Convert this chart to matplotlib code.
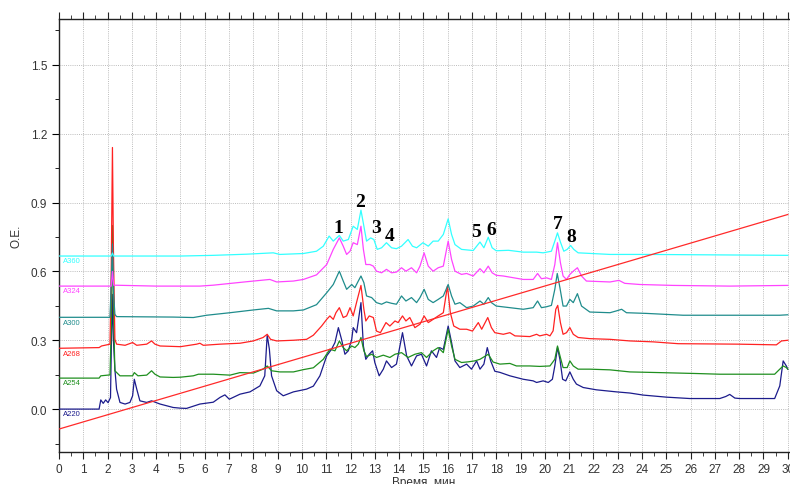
import matplotlib
matplotlib.use("Agg")
import matplotlib.pyplot as plt
from matplotlib.ticker import MultipleLocator

# chromatogram traces, (time min, absorbance)
a220 = [(0, 0.0), (1.65, 0.0), (1.72, 0.04), (1.82, 0.025), (1.92, 0.04), (2.02, 0.028), (2.12, 0.05),
        (2.19, 0.50), (2.24, 0.30), (2.30, 0.174), (2.37, 0.087), (2.51, 0.029), (2.72, 0.022),
        (2.92, 0.029), (3.03, 0.058), (3.10, 0.13), (3.20, 0.087), (3.33, 0.036), (3.61, 0.029),
        (3.81, 0.036), (4.16, 0.022), (4.70, 0.007), (5.0, 0.004), (5.25, 0.003), (5.80, 0.022),
        (6.35, 0.03), (6.63, 0.051), (6.83, 0.062), (7.01, 0.043), (7.45, 0.065), (7.86, 0.075),
        (8.27, 0.101), (8.47, 0.145), (8.57, 0.322), (8.66, 0.261), (8.75, 0.145), (8.96, 0.08),
        (9.23, 0.058), (9.65, 0.075), (10.19, 0.087), (10.47, 0.10), (10.74, 0.145), (11.02, 0.232),
        (11.22, 0.261), (11.36, 0.29), (11.50, 0.355), (11.63, 0.304), (11.77, 0.239), (11.91, 0.254),
        (12.05, 0.304), (12.11, 0.355), (12.25, 0.333), (12.43, 0.464), (12.53, 0.275), (12.63, 0.217),
        (12.77, 0.239), (12.91, 0.254), (13.00, 0.203), (13.18, 0.145), (13.35, 0.174), (13.48, 0.21),
        (13.69, 0.181), (13.89, 0.196), (14.14, 0.333), (14.31, 0.232), (14.51, 0.188), (14.72, 0.232),
        (14.92, 0.239), (15.13, 0.188), (15.33, 0.254), (15.54, 0.225), (15.67, 0.268), (15.82, 0.26),
        (16.02, 0.362), (16.16, 0.29), (16.30, 0.21), (16.50, 0.181), (16.78, 0.196), (16.98, 0.174),
        (17.19, 0.21), (17.33, 0.174), (17.49, 0.196), (17.63, 0.268), (17.77, 0.21), (17.94, 0.165),
        (18.15, 0.16), (18.56, 0.145), (19.11, 0.13), (19.52, 0.123), (19.66, 0.116), (19.93, 0.123),
        (20.14, 0.116), (20.31, 0.13), (20.41, 0.188), (20.52, 0.268), (20.62, 0.217), (20.73, 0.13),
        (20.86, 0.123), (21.03, 0.162), (21.17, 0.13), (21.30, 0.109), (21.58, 0.094), (22.12, 0.084),
        (22.95, 0.075), (23.50, 0.07), (24.05, 0.061), (25.01, 0.052), (25.97, 0.046), (27.20, 0.046),
        (27.45, 0.055), (27.61, 0.064), (27.82, 0.048), (28.02, 0.046), (29.46, 0.046), (29.67, 0.101),
        (29.81, 0.21), (29.94, 0.188), (30.0, 0.174)]

a254 = [(0, 0.135), (1.65, 0.135), (1.72, 0.145), (2.1, 0.149), (2.15, 0.35), (2.20, 0.80), (2.25, 0.40),
        (2.30, 0.167), (2.51, 0.145), (3.03, 0.145), (3.10, 0.159), (3.25, 0.145), (3.61, 0.148),
        (3.81, 0.167), (3.95, 0.152), (4.16, 0.14), (4.70, 0.138), (5.0, 0.139), (5.53, 0.145),
        (5.74, 0.152), (6.35, 0.152), (7.04, 0.148), (7.45, 0.159), (8.0, 0.157), (8.40, 0.174),
        (8.57, 0.188), (8.75, 0.167), (9.09, 0.162), (9.65, 0.162), (10.06, 0.172), (10.47, 0.18),
        (10.88, 0.217), (11.15, 0.261), (11.36, 0.254), (11.54, 0.297), (11.70, 0.268), (11.84, 0.254),
        (12.05, 0.275), (12.18, 0.268), (12.32, 0.283), (12.43, 0.312), (12.55, 0.254), (12.66, 0.229),
        (12.87, 0.239), (13.07, 0.225), (13.35, 0.235), (13.62, 0.225), (13.83, 0.239), (14.10, 0.246),
        (14.37, 0.225), (14.65, 0.239), (14.92, 0.246), (15.13, 0.225), (15.40, 0.254), (15.61, 0.268),
        (15.82, 0.246), (16.02, 0.348), (16.16, 0.275), (16.30, 0.217), (16.57, 0.203), (16.85, 0.206),
        (17.11, 0.21), (17.33, 0.217), (17.67, 0.239), (17.87, 0.205), (18.15, 0.196), (18.56, 0.199),
        (18.83, 0.188), (19.38, 0.188), (19.79, 0.186), (20.21, 0.188), (20.41, 0.217), (20.52, 0.275),
        (20.64, 0.225), (20.75, 0.181), (20.92, 0.181), (21.03, 0.21), (21.17, 0.188), (21.37, 0.174),
        (21.85, 0.174), (22.68, 0.171), (23.50, 0.162), (24.73, 0.159), (26.24, 0.155), (27.2, 0.152),
        (29.46, 0.152), (29.67, 0.174), (29.81, 0.188), (29.94, 0.181), (30.0, 0.174)]

a268 = [(0, 0.265), (1.65, 0.268), (1.75, 0.275), (2.1, 0.283), (2.15, 0.6), (2.20, 1.14), (2.24, 0.7),
        (2.30, 0.304), (2.37, 0.283), (2.72, 0.278), (3.03, 0.29), (3.2, 0.278), (3.61, 0.283),
        (3.81, 0.297), (3.95, 0.283), (4.16, 0.275), (5.0, 0.272), (5.67, 0.283), (5.80, 0.287),
        (5.94, 0.278), (6.63, 0.283), (7.45, 0.287), (8.0, 0.297), (8.40, 0.312), (8.57, 0.326),
        (8.71, 0.304), (8.96, 0.297), (9.65, 0.3), (10.19, 0.304), (10.47, 0.322), (10.81, 0.362),
        (11.02, 0.391), (11.15, 0.406), (11.29, 0.391), (11.40, 0.42), (11.54, 0.442), (11.70, 0.399),
        (11.84, 0.406), (11.98, 0.442), (12.11, 0.406), (12.28, 0.478), (12.43, 0.539), (12.55, 0.435),
        (12.63, 0.384), (12.77, 0.406), (12.94, 0.399), (13.07, 0.34), (13.23, 0.333), (13.46, 0.377),
        (13.62, 0.362), (13.83, 0.384), (13.96, 0.377), (14.14, 0.406), (14.28, 0.384), (14.44, 0.399),
        (14.65, 0.355), (14.86, 0.37), (15.03, 0.406), (15.20, 0.377), (15.40, 0.391), (15.61, 0.406),
        (15.82, 0.42), (15.99, 0.536), (16.11, 0.42), (16.25, 0.362), (16.50, 0.348), (16.78, 0.348),
        (17.02, 0.34), (17.26, 0.377), (17.40, 0.348), (17.65, 0.399), (17.80, 0.355), (17.94, 0.333),
        (18.29, 0.326), (18.56, 0.333), (18.77, 0.319), (19.38, 0.316), (19.66, 0.326), (19.79, 0.319),
        (20.07, 0.326), (20.21, 0.319), (20.34, 0.341), (20.45, 0.435), (20.53, 0.452), (20.64, 0.377),
        (20.75, 0.326), (20.89, 0.333), (21.03, 0.355), (21.17, 0.326), (21.37, 0.312), (21.85, 0.307),
        (22.68, 0.304), (23.50, 0.297), (24.46, 0.293), (25.49, 0.285), (27.95, 0.283), (29.53, 0.28),
        (29.74, 0.297), (30.0, 0.3)]

a300 = [(0, 0.40), (2.1, 0.40), (2.15, 0.55), (2.20, 0.72), (2.25, 0.5), (2.30, 0.413), (2.37, 0.403),
        (4.70, 0.401), (5.53, 0.399), (6.08, 0.409), (7.04, 0.42), (8.0, 0.432), (8.62, 0.439),
        (8.96, 0.428), (9.65, 0.428), (10.06, 0.432), (10.60, 0.455), (11.02, 0.507), (11.29, 0.543),
        (11.54, 0.601), (11.70, 0.558), (11.84, 0.522), (12.05, 0.543), (12.18, 0.529), (12.32, 0.558),
        (12.43, 0.58), (12.55, 0.551), (12.66, 0.493), (12.87, 0.486), (13.07, 0.464), (13.28, 0.457),
        (13.48, 0.467), (13.69, 0.461), (13.89, 0.457), (14.10, 0.493), (14.28, 0.471), (14.51, 0.486),
        (14.72, 0.464), (14.86, 0.486), (15.03, 0.522), (15.20, 0.478), (15.40, 0.464), (15.61, 0.478),
        (15.82, 0.493), (16.02, 0.543), (16.16, 0.493), (16.30, 0.457), (16.50, 0.464), (16.78, 0.442),
        (17.05, 0.449), (17.33, 0.471), (17.49, 0.457), (17.67, 0.486), (17.80, 0.464), (18.00, 0.449),
        (18.56, 0.442), (19.11, 0.435), (19.52, 0.442), (19.70, 0.471), (19.86, 0.442), (20.07, 0.446),
        (20.27, 0.452), (20.41, 0.522), (20.51, 0.591), (20.62, 0.529), (20.75, 0.449), (20.89, 0.449),
        (21.03, 0.478), (21.17, 0.464), (21.34, 0.503), (21.51, 0.449), (21.85, 0.423), (22.68, 0.42),
        (22.95, 0.428), (23.16, 0.435), (23.36, 0.42), (24.18, 0.417), (25.69, 0.409), (29.67, 0.409),
        (30.0, 0.411)]

a324 = [(0, 0.536), (2.15, 0.536), (2.2, 0.6), (2.25, 0.54), (4.0, 0.536), (5.8, 0.536), (6.35, 0.54),
        (7.72, 0.555), (8.68, 0.565), (8.96, 0.554), (9.65, 0.558), (10.06, 0.565), (10.60, 0.585),
        (11.02, 0.63), (11.29, 0.696), (11.54, 0.746), (11.70, 0.71), (11.84, 0.674), (11.98, 0.688),
        (12.11, 0.725), (12.28, 0.717), (12.43, 0.797), (12.53, 0.696), (12.63, 0.63), (12.80, 0.63),
        (12.94, 0.623), (13.07, 0.601), (13.28, 0.594), (13.48, 0.609), (13.69, 0.594), (13.89, 0.597),
        (14.10, 0.616), (14.28, 0.601), (14.51, 0.616), (14.72, 0.594), (14.86, 0.623), (15.03, 0.681),
        (15.20, 0.623), (15.40, 0.601), (15.61, 0.616), (15.82, 0.623), (16.02, 0.732), (16.16, 0.652),
        (16.30, 0.601), (16.57, 0.587), (16.78, 0.591), (17.05, 0.58), (17.33, 0.612), (17.49, 0.594),
        (17.67, 0.623), (17.83, 0.594), (18.00, 0.583), (18.29, 0.58), (19.11, 0.565), (19.52, 0.565),
        (19.70, 0.591), (19.86, 0.568), (20.07, 0.572), (20.27, 0.565), (20.41, 0.63), (20.52, 0.725),
        (20.64, 0.638), (20.75, 0.58), (20.89, 0.565), (21.03, 0.587), (21.17, 0.601), (21.34, 0.616),
        (21.51, 0.58), (21.71, 0.558), (22.68, 0.554), (23.05, 0.561), (23.29, 0.548), (23.91, 0.543),
        (25.28, 0.539), (27.61, 0.536), (30.0, 0.539)]

a360 = [(0, 0.667), (2.15, 0.667), (2.2, 0.68), (2.25, 0.667), (5.0, 0.667), (6.35, 0.67), (7.72, 0.675),
        (8.82, 0.681), (9.09, 0.674), (10.06, 0.678), (10.60, 0.688), (10.88, 0.71), (11.12, 0.754),
        (11.29, 0.732), (11.54, 0.757), (11.70, 0.732), (11.91, 0.739), (12.11, 0.797), (12.28, 0.783),
        (12.43, 0.867), (12.55, 0.797), (12.66, 0.732), (12.83, 0.746), (12.96, 0.739), (13.10, 0.696),
        (13.28, 0.703), (13.48, 0.725), (13.69, 0.703), (13.89, 0.699), (14.10, 0.71), (14.37, 0.739),
        (14.55, 0.71), (14.72, 0.703), (14.98, 0.725), (15.20, 0.71), (15.40, 0.732), (15.61, 0.732),
        (15.82, 0.761), (16.02, 0.829), (16.16, 0.761), (16.30, 0.717), (16.57, 0.696), (17.05, 0.691),
        (17.33, 0.728), (17.49, 0.703), (17.67, 0.749), (17.83, 0.703), (18.00, 0.69), (18.5, 0.692),
        (19.11, 0.684), (19.66, 0.684), (19.93, 0.681), (20.27, 0.688), (20.41, 0.732), (20.52, 0.768),
        (20.64, 0.728), (20.78, 0.688), (20.92, 0.696), (21.06, 0.713), (21.19, 0.696), (21.37, 0.681),
        (22.68, 0.674), (24.18, 0.674), (30.0, 0.67)]

# gradient line (straight, from start to end of run)
gradient_t = [0, 30]
gradient_v = [-0.087, 0.848]

trace_names = ["A360", "A324", "A300", "A268", "A254", "A220"]
trace_colors = ["#33ffff", "#ff44ff", "#1f8c8c", "#ff2222", "#1f8f1f", "#1c1c8c"]
traces = [a360, a324, a300, a268, a254, a220]

peak_labels = ["1", "2", "3", "4", "5", "6", "7", "8"]
peak_t = [11.48, 12.38, 13.04, 13.62, 17.16, 17.78, 20.53, 21.07]
peak_v = [0.791, 0.904, 0.791, 0.757, 0.774, 0.783, 0.809, 0.752]

tick_font = ["Liberation Sans Narrow", "Liberation Sans", "DejaVu Sans"]

fig = plt.figure(figsize=(7.9, 4.85), dpi=100)
ax = fig.add_axes([59 / 790, 32 / 485, 730 / 790, 433 / 485])

# draw bottom trace first, red gradient on top
for name, col, tr in zip(trace_names[::-1], trace_colors[::-1], traces[::-1]):
    t = [p[0] for p in tr]
    v = [p[1] for p in tr]
    ax.plot(t, v, color=col, lw=0.9, zorder=3)
    ax.text(0.15, v[0] - 0.006, name, color=col, fontsize=5.5, va="top", ha="left",
            family=tick_font, zorder=4)

ax.plot(gradient_t, gradient_v, color="#ff2a2a", lw=0.9, zorder=5)

for lab, t, v in zip(peak_labels, peak_t, peak_v):
    ax.text(t, v, lab, fontsize=14, fontweight="bold", family="Liberation Serif",
            ha="center", va="center", zorder=6)

ax.set_xlim(0, 30.05)
ax.set_ylim(-0.187, 1.70)
ax.xaxis.set_major_locator(MultipleLocator(1))
ax.xaxis.set_minor_locator(MultipleLocator(0.5))
ax.yaxis.set_major_locator(MultipleLocator(0.3))
ax.yaxis.set_minor_locator(MultipleLocator(0.15))
ax.yaxis.set_major_formatter(plt.FuncFormatter(lambda y, _: f"{y:.1f}"))

ax.grid(True, which="major", color="#b4b4b4", linestyle=(0, (1.2, 1.4)), lw=0.6)
ax.tick_params(axis="x", which="both", top=True, direction="out", labelsize=8.5,
               colors="#222222", labelcolor="#333333", pad=3)
ax.tick_params(axis="x", which="major", length=5)
ax.tick_params(axis="x", which="minor", length=3)
ax.tick_params(axis="y", which="major", length=5, labelsize=8.5, labelcolor="#333333")
ax.tick_params(axis="y", which="minor", length=3)
for lbl in ax.get_xticklabels() + ax.get_yticklabels():
    lbl.set_family(tick_font)

ax.spines["right"].set_visible(False)
for s in ["left", "bottom", "top"]:
    ax.spines[s].set_color("#222222")
    ax.spines[s].set_linewidth(1.0)

ax.set_ylabel("O.E.", fontsize=8.5, color="#333333", family=tick_font, labelpad=6)
ax.set_xlabel("Время, мин", fontsize=8.5, color="#333333", family=tick_font, labelpad=1)

fig.savefig("out.png", dpi=100)
